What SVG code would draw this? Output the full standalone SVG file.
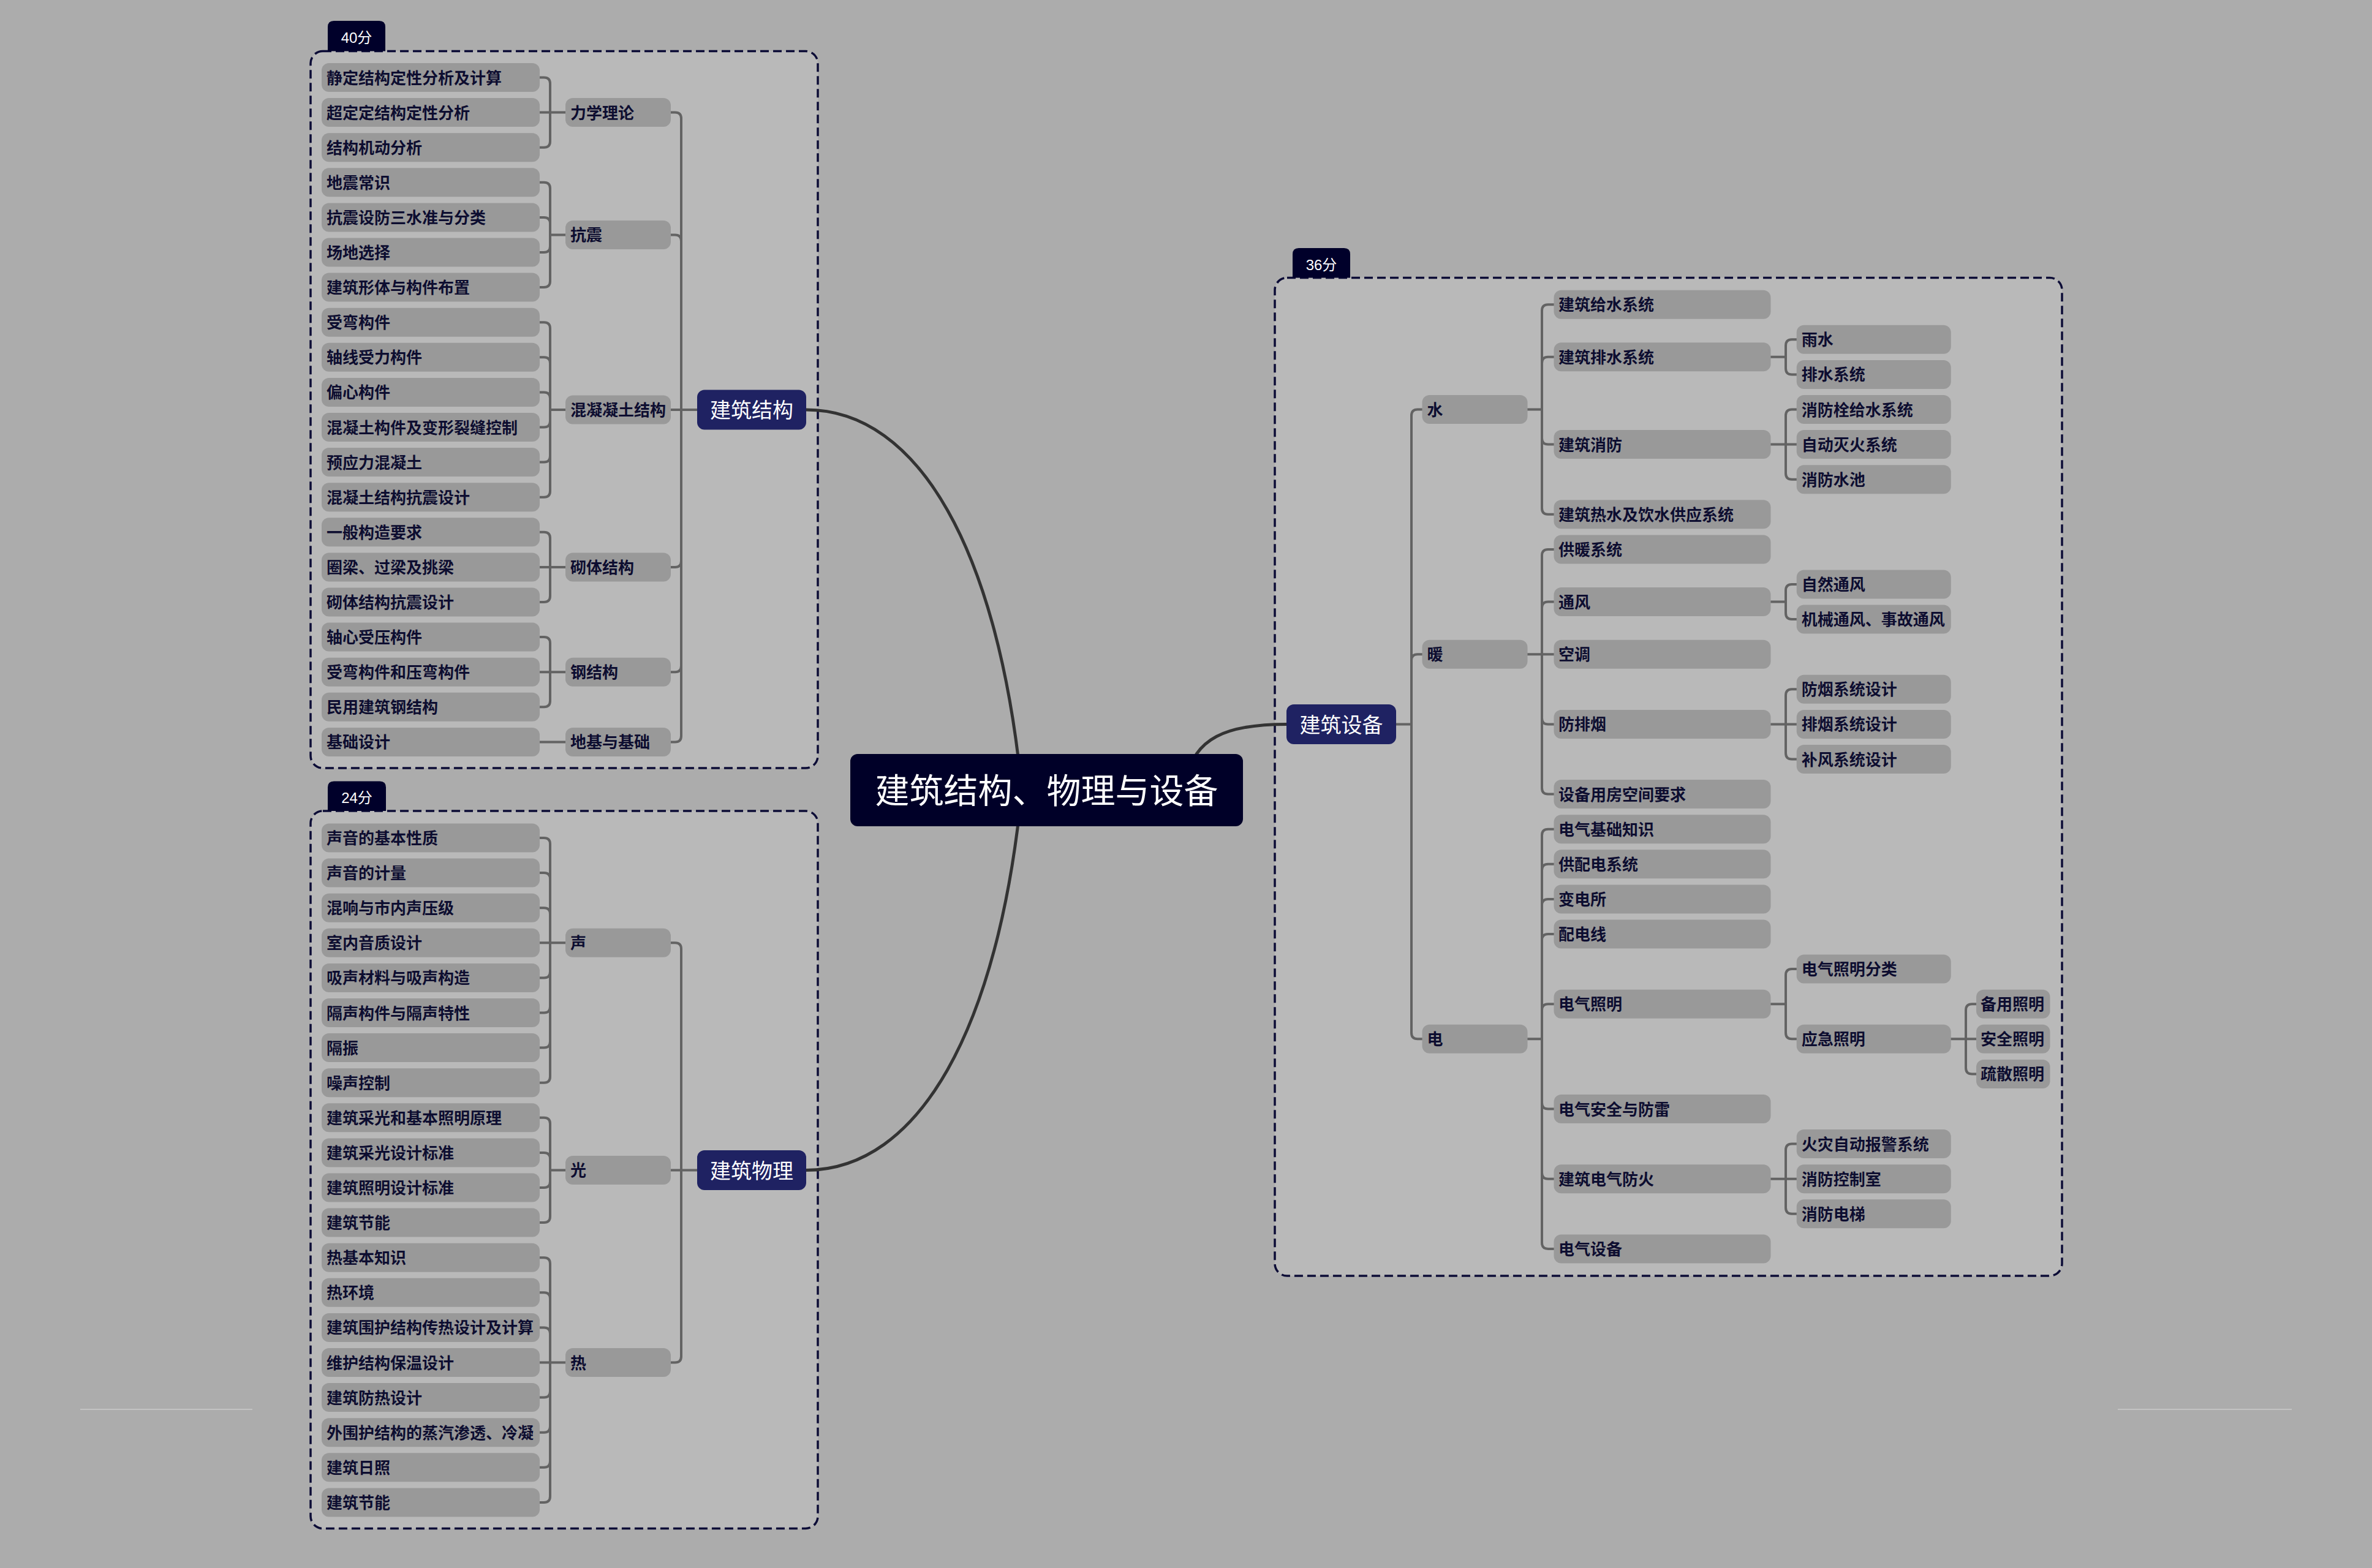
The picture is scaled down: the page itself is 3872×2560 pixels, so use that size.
<svg xmlns="http://www.w3.org/2000/svg" width="3872" height="2560" viewBox="0 0 3872 2560">
<style>
.bg{fill:#acacac}
.box{fill:#b9b9b9;stroke:#0c0c36;stroke-width:3.5;stroke-dasharray:14 7}
.tab{fill:#00002a}
.tabt{font-family:"Liberation Sans","Noto Sans CJK SC",sans-serif;font-size:24px;fill:#ffffff;text-anchor:middle}
.n rect{fill:#999999}
.n text{font-family:"Noto Sans CJK SC",sans-serif;font-weight:700;font-size:26px;fill:#0d0d30}
.b rect{fill:#1f2262}
.b text{font-family:"Noto Sans CJK SC",sans-serif;font-size:34px;fill:#ffffff;text-anchor:middle}
.root rect{fill:#000028}
.root text{font-family:"Noto Sans CJK SC",sans-serif;font-size:56px;fill:#ffffff;text-anchor:middle}
.c{fill:none;stroke:#636363;stroke-width:4}
.cm{fill:none;stroke:#333333;stroke-width:5}
.faint{stroke:#c3c3c3;stroke-width:2}
</style>
<rect class="bg" x="0" y="0" width="3872" height="2560"/>
<line class="faint" x1="131" y1="2301" x2="412" y2="2301"/>
<line class="faint" x1="3457" y1="2301" x2="3741" y2="2301"/>

<g id="boundaries">
<g id="box-structure"><rect class="box" x="507" y="83.5" width="828" height="1170.5" rx="20"/><path class="tab" d="M535,83.5 V44 Q535,34 545,34 H619 Q629,34 629,44 V83.5 Z"/><text class="tabt" x="582" y="70">40分</text></g>
<g id="box-physics"><rect class="box" x="507" y="1324" width="828" height="1171.5" rx="20"/><path class="tab" d="M535,1324 V1285.5 Q535,1275.5 545,1275.5 H620 Q630,1275.5 630,1285.5 V1324 Z"/><text class="tabt" x="582.5" y="1311">24分</text></g>
<g id="box-equipment"><rect class="box" x="2081" y="453.5" width="1285" height="1629.5" rx="20"/><path class="tab" d="M2110,453.5 V415 Q2110,405 2120,405 H2194 Q2204,405 2204,415 V453.5 Z"/><text class="tabt" x="2157" y="441">36分</text></g>
</g>

<g id="connectors">
<path class="cm" d="M1316,669 C1500,669 1630,900 1668,1290"/>
<path class="cm" d="M1316,1910.45 C1500,1910.45 1630,1680 1668,1290"/>
<path class="cm" d="M1935,1290 C1940,1200 2010,1182.4 2100,1182.4"/>
<!-- box1 leaves -->
<path class="c" d="M881,126.5 H888 Q898,126.5 898,136.5 V183.6 M881,183.6 H923 M881,240.7 H888 Q898,240.7 898,230.7 V183.6"/>
<path class="c" d="M881,297.8 H888 Q898,297.8 898,307.8 V383.45 M881,354.9 H888 Q898,354.9 898,364.9 V383.45 M881,412 H888 Q898,412 898,402 V383.45 M881,469.1 H888 Q898,469.1 898,459.1 V383.45 M898,383.45 H923"/>
<path class="c" d="M881,526.2 H888 Q898,526.2 898,536.2 V669 M881,583.3 H888 Q898,583.3 898,593.3 V669 M881,640.4 H888 Q898,640.4 898,650.4 V669 M881,697.5 H888 Q898,697.5 898,687.5 V669 M881,754.6 H888 Q898,754.6 898,744.6 V669 M881,811.7 H888 Q898,811.7 898,801.7 V669 M898,669 H923"/>
<path class="c" d="M881,868.8 H888 Q898,868.8 898,878.8 V925.9 M881,925.9 H923 M881,983 H888 Q898,983 898,973 V925.9"/>
<path class="c" d="M881,1040.1 H888 Q898,1040.1 898,1050.1 V1097.2 M881,1097.2 H923 M881,1154.3 H888 Q898,1154.3 898,1144.3 V1097.2"/>
<path class="c" d="M881,1211.4 H923"/>
<path class="c" d="M1095,183.6 H1102 Q1112,183.6 1112,193.6 V669 M1095,383.45 H1102 Q1112,383.45 1112,393.45 V669 M1095,669 H1138 M1095,925.9 H1102 Q1112,925.9 1112,915.9 V669 M1095,1097.2 H1102 Q1112,1097.2 1112,1087.2 V669 M1095,1211.4 H1102 Q1112,1211.4 1112,1201.4 V669"/>
<!-- box2 leaves -->
<path class="c" d="M881,1368 H888 Q898,1368 898,1378 V1539.3 M881,1425.1 H888 Q898,1425.1 898,1435.1 V1539.3 M881,1482.2 H888 Q898,1482.2 898,1492.2 V1539.3 M881,1539.3 H923 M881,1596.4 H888 Q898,1596.4 898,1586.4 V1539.3 M881,1653.5 H888 Q898,1653.5 898,1643.5 V1539.3 M881,1710.6 H888 Q898,1710.6 898,1700.6 V1539.3 M881,1767.7 H888 Q898,1767.7 898,1757.7 V1539.3"/>
<path class="c" d="M881,1824.8 H888 Q898,1824.8 898,1834.8 V1910.45 M881,1881.9 H888 Q898,1881.9 898,1891.9 V1910.45 M881,1939 H888 Q898,1939 898,1929 V1910.45 M881,1996.1 H888 Q898,1996.1 898,1986.1 V1910.45 M898,1910.45 H923"/>
<path class="c" d="M881,2053.2 H888 Q898,2053.2 898,2063.2 V2224.5 M881,2110.3 H888 Q898,2110.3 898,2120.3 V2224.5 M881,2167.4 H888 Q898,2167.4 898,2177.4 V2224.5 M881,2224.5 H923 M881,2281.6 H888 Q898,2281.6 898,2271.6 V2224.5 M881,2338.7 H888 Q898,2338.7 898,2328.7 V2224.5 M881,2395.8 H888 Q898,2395.8 898,2385.8 V2224.5 M881,2452.9 H888 Q898,2452.9 898,2442.9 V2224.5"/>
<path class="c" d="M1095,1539.3 H1102 Q1112,1539.3 1112,1549.3 V1910.45 M1095,1910.45 H1138 M1095,2224.5 H1102 Q1112,2224.5 1112,2214.5 V1910.45"/>
<!-- box3 -->
<path class="c" d="M2279,1182.4 H2304 M2304,1182.4 V678.5 Q2304,668.5 2314,668.5 H2322 M2304,1182.4 V1078.2 Q2304,1068.2 2314,1068.2 H2322 M2304,1182.4 V1686.3 Q2304,1696.3 2314,1696.3 H2322"/>
<path class="c" d="M2493,668.5 H2517 M2517,668.5 V507.2 Q2517,497.2 2527,497.2 H2537 M2517,668.5 V592.85 Q2517,582.85 2527,582.85 H2537 M2517,668.5 V715.6 Q2517,725.6 2527,725.6 H2537 M2517,668.5 V829.8 Q2517,839.8 2527,839.8 H2537"/>
<path class="c" d="M2493,1068.2 H2537 M2517,1068.2 V906.9 Q2517,896.9 2527,896.9 H2537 M2517,1068.2 V992.6 Q2517,982.6 2527,982.6 H2537 M2517,1068.2 V1172.4 Q2517,1182.4 2527,1182.4 H2537 M2517,1068.2 V1286.6 Q2517,1296.6 2527,1296.6 H2537"/>
<path class="c" d="M2493,1696.3 H2517 M2517,1696.3 V1363.7 Q2517,1353.7 2527,1353.7 H2537 M2517,1696.3 V1420.8 Q2517,1410.8 2527,1410.8 H2537 M2517,1696.3 V1477.9 Q2517,1467.9 2527,1467.9 H2537 M2517,1696.3 V1535 Q2517,1525 2527,1525 H2537 M2517,1696.3 V1649.2 Q2517,1639.2 2527,1639.2 H2537 M2517,1696.3 V1800.5 Q2517,1810.5 2527,1810.5 H2537 M2517,1696.3 V1914.7 Q2517,1924.7 2527,1924.7 H2537 M2517,1696.3 V2028.9 Q2517,2038.9 2527,2038.9 H2537"/>
<path class="c" d="M2890,582.85 H2915 M2915,582.85 V564.3 Q2915,554.3 2925,554.3 H2933 M2915,582.85 V601.4 Q2915,611.4 2925,611.4 H2933"/>
<path class="c" d="M2890,725.6 H2933 M2915,725.6 V678.5 Q2915,668.5 2925,668.5 H2933 M2915,725.6 V772.7 Q2915,782.7 2925,782.7 H2933"/>
<path class="c" d="M2890,982.6 H2915 M2915,982.6 V964 Q2915,954 2925,954 H2933 M2915,982.6 V1001.1 Q2915,1011.1 2925,1011.1 H2933"/>
<path class="c" d="M2890,1182.4 H2933 M2915,1182.4 V1135.3 Q2915,1125.3 2925,1125.3 H2933 M2915,1182.4 V1229.5 Q2915,1239.5 2925,1239.5 H2933"/>
<path class="c" d="M2890,1639.2 H2915 M2915,1639.2 V1592.1 Q2915,1582.1 2925,1582.1 H2933 M2915,1639.2 V1686.3 Q2915,1696.3 2925,1696.3 H2933"/>
<path class="c" d="M2890,1924.7 H2933 M2915,1924.7 V1877.6 Q2915,1867.6 2925,1867.6 H2933 M2915,1924.7 V1971.8 Q2915,1981.8 2925,1981.8 H2933"/>
<path class="c" d="M3184,1696.3 H3226 M3209,1696.3 V1649.2 Q3209,1639.2 3219,1639.2 H3226 M3209,1696.3 V1743.4 Q3209,1753.4 3219,1753.4 H3226"/>
</g>

<g id="root" class="root"><rect x="1388" y="1231" width="641" height="118" rx="12"/><text x="1708.5" y="1311">建筑结构、物理与设备</text></g>

<g id="n-jzjg" class="b"><rect x="1138" y="636.5" width="178" height="65" rx="12"/><text x="1227" y="682">建筑结构</text></g>
<g id="n-jzwl" class="b"><rect x="1138" y="1878" width="178" height="65" rx="12"/><text x="1227" y="1923.5">建筑物理</text></g>
<g id="n-jzsb" class="b"><rect x="2100" y="1150" width="179" height="65" rx="12"/><text x="2189.5" y="1195.5">建筑设备</text></g>

<!-- box1 mid -->
<g id="m-lxll" class="n"><rect x="923" y="160.1" width="172" height="47" rx="12"/><text x="931" y="193.6">力学理论</text></g>
<g id="m-kz" class="n"><rect x="923" y="359.95" width="172" height="47" rx="12"/><text x="931" y="393.45">抗震</text></g>
<g id="m-hnt" class="n"><rect x="923" y="645.5" width="172" height="47" rx="12"/><text x="931" y="679">混凝凝土结构</text></g>
<g id="m-qt" class="n"><rect x="923" y="902.4" width="172" height="47" rx="12"/><text x="931" y="935.9">砌体结构</text></g>
<g id="m-gjg" class="n"><rect x="923" y="1073.7" width="172" height="47" rx="12"/><text x="931" y="1107.2">钢结构</text></g>
<g id="m-djjc" class="n"><rect x="923" y="1187.9" width="172" height="47" rx="12"/><text x="931" y="1221.4">地基与基础</text></g>
<!-- box1 leaves -->
<g id="l1-01" class="n"><rect x="525" y="103" width="356" height="47" rx="12"/><text x="533" y="136.5">静定结构定性分析及计算</text></g>
<g id="l1-02" class="n"><rect x="525" y="160.1" width="356" height="47" rx="12"/><text x="533" y="193.6">超定定结构定性分析</text></g>
<g id="l1-03" class="n"><rect x="525" y="217.2" width="356" height="47" rx="12"/><text x="533" y="250.7">结构机动分析</text></g>
<g id="l1-04" class="n"><rect x="525" y="274.3" width="356" height="47" rx="12"/><text x="533" y="307.8">地震常识</text></g>
<g id="l1-05" class="n"><rect x="525" y="331.4" width="356" height="47" rx="12"/><text x="533" y="364.9">抗震设防三水准与分类</text></g>
<g id="l1-06" class="n"><rect x="525" y="388.5" width="356" height="47" rx="12"/><text x="533" y="422">场地选择</text></g>
<g id="l1-07" class="n"><rect x="525" y="445.6" width="356" height="47" rx="12"/><text x="533" y="479.1">建筑形体与构件布置</text></g>
<g id="l1-08" class="n"><rect x="525" y="502.7" width="356" height="47" rx="12"/><text x="533" y="536.2">受弯构件</text></g>
<g id="l1-09" class="n"><rect x="525" y="559.8" width="356" height="47" rx="12"/><text x="533" y="593.3">轴线受力构件</text></g>
<g id="l1-10" class="n"><rect x="525" y="616.9" width="356" height="47" rx="12"/><text x="533" y="650.4">偏心构件</text></g>
<g id="l1-11" class="n"><rect x="525" y="674" width="356" height="47" rx="12"/><text x="533" y="707.5">混凝土构件及变形裂缝控制</text></g>
<g id="l1-12" class="n"><rect x="525" y="731.1" width="356" height="47" rx="12"/><text x="533" y="764.6">预应力混凝土</text></g>
<g id="l1-13" class="n"><rect x="525" y="788.2" width="356" height="47" rx="12"/><text x="533" y="821.7">混凝土结构抗震设计</text></g>
<g id="l1-14" class="n"><rect x="525" y="845.3" width="356" height="47" rx="12"/><text x="533" y="878.8">一般构造要求</text></g>
<g id="l1-15" class="n"><rect x="525" y="902.4" width="356" height="47" rx="12"/><text x="533" y="935.9">圈梁、过梁及挑梁</text></g>
<g id="l1-16" class="n"><rect x="525" y="959.5" width="356" height="47" rx="12"/><text x="533" y="993">砌体结构抗震设计</text></g>
<g id="l1-17" class="n"><rect x="525" y="1016.6" width="356" height="47" rx="12"/><text x="533" y="1050.1">轴心受压构件</text></g>
<g id="l1-18" class="n"><rect x="525" y="1073.7" width="356" height="47" rx="12"/><text x="533" y="1107.2">受弯构件和压弯构件</text></g>
<g id="l1-19" class="n"><rect x="525" y="1130.8" width="356" height="47" rx="12"/><text x="533" y="1164.3">民用建筑钢结构</text></g>
<g id="l1-20" class="n"><rect x="525" y="1187.9" width="356" height="47" rx="12"/><text x="533" y="1221.4">基础设计</text></g>
<!-- box2 mid -->
<g id="m-s" class="n"><rect x="923" y="1515.8" width="172" height="47" rx="12"/><text x="931" y="1549.3">声</text></g>
<g id="m-g" class="n"><rect x="923" y="1886.95" width="172" height="47" rx="12"/><text x="931" y="1920.45">光</text></g>
<g id="m-r" class="n"><rect x="923" y="2201" width="172" height="47" rx="12"/><text x="931" y="2234.5">热</text></g>
<!-- box2 leaves -->
<g id="l2-01" class="n"><rect x="525" y="1344.5" width="356" height="47" rx="12"/><text x="533" y="1378">声音的基本性质</text></g>
<g id="l2-02" class="n"><rect x="525" y="1401.6" width="356" height="47" rx="12"/><text x="533" y="1435.1">声音的计量</text></g>
<g id="l2-03" class="n"><rect x="525" y="1458.7" width="356" height="47" rx="12"/><text x="533" y="1492.2">混响与市内声压级</text></g>
<g id="l2-04" class="n"><rect x="525" y="1515.8" width="356" height="47" rx="12"/><text x="533" y="1549.3">室内音质设计</text></g>
<g id="l2-05" class="n"><rect x="525" y="1572.9" width="356" height="47" rx="12"/><text x="533" y="1606.4">吸声材料与吸声构造</text></g>
<g id="l2-06" class="n"><rect x="525" y="1630" width="356" height="47" rx="12"/><text x="533" y="1663.5">隔声构件与隔声特性</text></g>
<g id="l2-07" class="n"><rect x="525" y="1687.1" width="356" height="47" rx="12"/><text x="533" y="1720.6">隔振</text></g>
<g id="l2-08" class="n"><rect x="525" y="1744.2" width="356" height="47" rx="12"/><text x="533" y="1777.7">噪声控制</text></g>
<g id="l2-09" class="n"><rect x="525" y="1801.3" width="356" height="47" rx="12"/><text x="533" y="1834.8">建筑采光和基本照明原理</text></g>
<g id="l2-10" class="n"><rect x="525" y="1858.4" width="356" height="47" rx="12"/><text x="533" y="1891.9">建筑采光设计标准</text></g>
<g id="l2-11" class="n"><rect x="525" y="1915.5" width="356" height="47" rx="12"/><text x="533" y="1949">建筑照明设计标准</text></g>
<g id="l2-12" class="n"><rect x="525" y="1972.6" width="356" height="47" rx="12"/><text x="533" y="2006.1">建筑节能</text></g>
<g id="l2-13" class="n"><rect x="525" y="2029.7" width="356" height="47" rx="12"/><text x="533" y="2063.2">热基本知识</text></g>
<g id="l2-14" class="n"><rect x="525" y="2086.8" width="356" height="47" rx="12"/><text x="533" y="2120.3">热环境</text></g>
<g id="l2-15" class="n"><rect x="525" y="2143.9" width="356" height="47" rx="12"/><text x="533" y="2177.4">建筑围护结构传热设计及计算</text></g>
<g id="l2-16" class="n"><rect x="525" y="2201" width="356" height="47" rx="12"/><text x="533" y="2234.5">维护结构保温设计</text></g>
<g id="l2-17" class="n"><rect x="525" y="2258.1" width="356" height="47" rx="12"/><text x="533" y="2291.6">建筑防热设计</text></g>
<g id="l2-18" class="n"><rect x="525" y="2315.2" width="356" height="47" rx="12"/><text x="533" y="2348.7">外围护结构的蒸汽渗透、冷凝</text></g>
<g id="l2-19" class="n"><rect x="525" y="2372.3" width="356" height="47" rx="12"/><text x="533" y="2405.8">建筑日照</text></g>
<g id="l2-20" class="n"><rect x="525" y="2429.4" width="356" height="47" rx="12"/><text x="533" y="2462.9">建筑节能</text></g>
<!-- box3 level1 -->
<g id="e-s" class="n"><rect x="2321.5" y="645" width="172" height="47" rx="12"/><text x="2329.5" y="678.5">水</text></g>
<g id="e-n" class="n"><rect x="2321.5" y="1044.7" width="172" height="47" rx="12"/><text x="2329.5" y="1078.2">暖</text></g>
<g id="e-d" class="n"><rect x="2321.5" y="1672.8" width="172" height="47" rx="12"/><text x="2329.5" y="1706.3">电</text></g>
<!-- box3 level2 -->
<g id="e2-01" class="n"><rect x="2536.5" y="473.7" width="354" height="47" rx="12"/><text x="2544" y="507.2">建筑给水系统</text></g>
<g id="e2-02" class="n"><rect x="2536.5" y="559.35" width="354" height="47" rx="12"/><text x="2544" y="592.85">建筑排水系统</text></g>
<g id="e2-03" class="n"><rect x="2536.5" y="702.1" width="354" height="47" rx="12"/><text x="2544" y="735.6">建筑消防</text></g>
<g id="e2-04" class="n"><rect x="2536.5" y="816.3" width="354" height="47" rx="12"/><text x="2544" y="849.8">建筑热水及饮水供应系统</text></g>
<g id="e2-05" class="n"><rect x="2536.5" y="873.4" width="354" height="47" rx="12"/><text x="2544" y="906.9">供暖系统</text></g>
<g id="e2-06" class="n"><rect x="2536.5" y="959.1" width="354" height="47" rx="12"/><text x="2544" y="992.6">通风</text></g>
<g id="e2-07" class="n"><rect x="2536.5" y="1044.7" width="354" height="47" rx="12"/><text x="2544" y="1078.2">空调</text></g>
<g id="e2-08" class="n"><rect x="2536.5" y="1158.9" width="354" height="47" rx="12"/><text x="2544" y="1192.4">防排烟</text></g>
<g id="e2-09" class="n"><rect x="2536.5" y="1273.1" width="354" height="47" rx="12"/><text x="2544" y="1306.6">设备用房空间要求</text></g>
<g id="e2-10" class="n"><rect x="2536.5" y="1330.2" width="354" height="47" rx="12"/><text x="2544" y="1363.7">电气基础知识</text></g>
<g id="e2-11" class="n"><rect x="2536.5" y="1387.3" width="354" height="47" rx="12"/><text x="2544" y="1420.8">供配电系统</text></g>
<g id="e2-12" class="n"><rect x="2536.5" y="1444.4" width="354" height="47" rx="12"/><text x="2544" y="1477.9">变电所</text></g>
<g id="e2-13" class="n"><rect x="2536.5" y="1501.5" width="354" height="47" rx="12"/><text x="2544" y="1535">配电线</text></g>
<g id="e2-14" class="n"><rect x="2536.5" y="1615.7" width="354" height="47" rx="12"/><text x="2544" y="1649.2">电气照明</text></g>
<g id="e2-15" class="n"><rect x="2536.5" y="1787" width="354" height="47" rx="12"/><text x="2544" y="1820.5">电气安全与防雷</text></g>
<g id="e2-16" class="n"><rect x="2536.5" y="1901.2" width="354" height="47" rx="12"/><text x="2544" y="1934.7">建筑电气防火</text></g>
<g id="e2-17" class="n"><rect x="2536.5" y="2015.4" width="354" height="47" rx="12"/><text x="2544" y="2048.9">电气设备</text></g>
<!-- box3 level3 -->
<g id="e3-01" class="n"><rect x="2932.7" y="530.8" width="252" height="47" rx="12"/><text x="2940.7" y="564.3">雨水</text></g>
<g id="e3-02" class="n"><rect x="2932.7" y="587.9" width="252" height="47" rx="12"/><text x="2940.7" y="621.4">排水系统</text></g>
<g id="e3-03" class="n"><rect x="2932.7" y="645" width="252" height="47" rx="12"/><text x="2940.7" y="678.5">消防栓给水系统</text></g>
<g id="e3-04" class="n"><rect x="2932.7" y="702.1" width="252" height="47" rx="12"/><text x="2940.7" y="735.6">自动灭火系统</text></g>
<g id="e3-05" class="n"><rect x="2932.7" y="759.2" width="252" height="47" rx="12"/><text x="2940.7" y="792.7">消防水池</text></g>
<g id="e3-06" class="n"><rect x="2932.7" y="930.5" width="252" height="47" rx="12"/><text x="2940.7" y="964">自然通风</text></g>
<g id="e3-07" class="n"><rect x="2932.7" y="987.6" width="252" height="47" rx="12"/><text x="2940.7" y="1021.1">机械通风、事故通风</text></g>
<g id="e3-08" class="n"><rect x="2932.7" y="1101.8" width="252" height="47" rx="12"/><text x="2940.7" y="1135.3">防烟系统设计</text></g>
<g id="e3-09" class="n"><rect x="2932.7" y="1158.9" width="252" height="47" rx="12"/><text x="2940.7" y="1192.4">排烟系统设计</text></g>
<g id="e3-10" class="n"><rect x="2932.7" y="1216" width="252" height="47" rx="12"/><text x="2940.7" y="1249.5">补风系统设计</text></g>
<g id="e3-11" class="n"><rect x="2932.7" y="1558.6" width="252" height="47" rx="12"/><text x="2940.7" y="1592.1">电气照明分类</text></g>
<g id="e3-12" class="n"><rect x="2932.7" y="1672.8" width="252" height="47" rx="12"/><text x="2940.7" y="1706.3">应急照明</text></g>
<g id="e3-13" class="n"><rect x="2932.7" y="1844.1" width="252" height="47" rx="12"/><text x="2940.7" y="1877.6">火灾自动报警系统</text></g>
<g id="e3-14" class="n"><rect x="2932.7" y="1901.2" width="252" height="47" rx="12"/><text x="2940.7" y="1934.7">消防控制室</text></g>
<g id="e3-15" class="n"><rect x="2932.7" y="1958.3" width="252" height="47" rx="12"/><text x="2940.7" y="1991.8">消防电梯</text></g>
<!-- box3 level4 -->
<g id="e4-01" class="n"><rect x="3226" y="1615.7" width="120.5" height="47" rx="12"/><text x="3233" y="1649.2">备用照明</text></g>
<g id="e4-02" class="n"><rect x="3226" y="1672.8" width="120.5" height="47" rx="12"/><text x="3233" y="1706.3">安全照明</text></g>
<g id="e4-03" class="n"><rect x="3226" y="1729.9" width="120.5" height="47" rx="12"/><text x="3233" y="1763.4">疏散照明</text></g>
</svg>
